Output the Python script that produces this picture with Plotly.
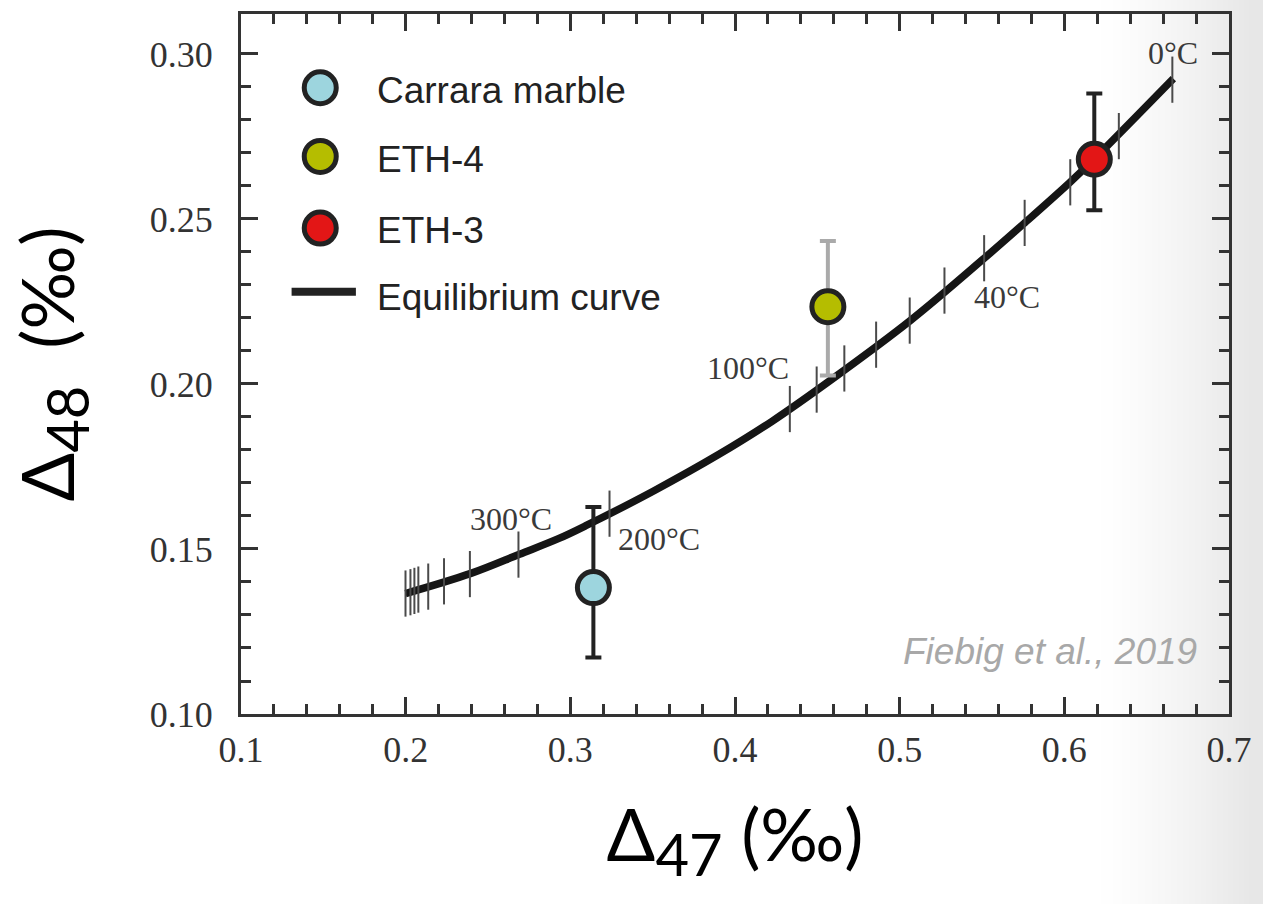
import plotly.graph_objects as go

# ---------------- data ----------------
curve_d47 = [0.1999, 0.2396, 0.2691, 0.2931, 0.3100, 0.3503, 0.3900, 0.4225,
             0.4604, 0.5067, 0.5507, 0.5759, 0.6030, 0.6168, 0.6662]
curve_d48 = [0.1365, 0.1426, 0.1484, 0.1532, 0.1572, 0.1675, 0.1786, 0.1887,
             0.2020, 0.2193, 0.2378, 0.2488, 0.2609, 0.2675, 0.2925]

tick_temps = [1000, 900, 800, 700, 600, 500, 400, 300, 200, 100,
              90, 80, 70, 60, 50, 40, 30, 20, 10, 0]
tick_d47 = [0.1999, 0.2029, 0.2053, 0.2077, 0.2137, 0.2233, 0.2390, 0.2685, 0.3238, 0.4333,
            0.4496, 0.4664, 0.4857, 0.5061, 0.5272, 0.5513, 0.5759, 0.6036, 0.6331, 0.6656]
tick_d48 = [0.1365, 0.1369, 0.1373, 0.1377, 0.1386, 0.1402, 0.1424, 0.1483, 0.1607, 0.1924,
            0.1983, 0.2047, 0.2119, 0.2192, 0.2283, 0.2381, 0.2488, 0.2611, 0.2751, 0.2922]

temp_labels = ["0°C", "40°C", "100°C", "200°C", "300°C"]
temp_label_d47 = [0.6662, 0.5651, 0.4078, 0.3536, 0.2640]
temp_label_d48 = [0.3004, 0.2265, 0.2048, 0.1529, 0.1590]

sample_names = ["Carrara marble", "ETH-4", "ETH-3"]
sample_colors = ["#9dd5de", "#b5bd00", "#e31616"]
sample_d47 = [0.3140, 0.4564, 0.6182]
sample_d48 = [0.1383, 0.2234, 0.2681]
err_plus = [0.0244, 0.0199, 0.0199]
err_minus = [0.0212, 0.0208, 0.0155]
err_colors = ["#222222", "#aaaaaa", "#222222"]

x_ticks = [0.1, 0.2, 0.3, 0.4, 0.5, 0.6, 0.7]
x_ticktext = ["0.1", "0.2", "0.3", "0.4", "0.5", "0.6", "0.7"]
y_ticks = [0.10, 0.15, 0.20, 0.25, 0.30]
y_ticktext = ["0.10", "0.15", "0.20", "0.25", "0.30"]
x_minor = [round(0.1 + 0.02 * i, 2) for i in range(31)]
y_minor = [round(0.10 + 0.01 * i, 2) for i in range(21)]

curve_name = "Equilibrium curve"
citation = "Fiebig et al., 2019"

# ---------------- style ----------------
AX = "#333333"
SERIF = "Liberation Serif"
SANS = "Liberation Sans"
TITLE_FONT = "Lato"
MARKER_SIZE = 32
MARKER_LINE = 5

fig = go.Figure()

fig.add_trace(go.Scatter(
    x=curve_d47, y=curve_d48, mode="lines", line=dict(color="#151515", width=7.5, shape="spline"),
    hoverinfo="skip", showlegend=False))

fig.add_trace(go.Scatter(
    x=tick_d47, y=tick_d48, mode="markers", text=[f"{t}°C" for t in tick_temps],
    marker=dict(symbol="line-ns", size=33, line=dict(color="#4a4a4a", width=2)),
    showlegend=False))

for i in range(len(sample_names)):
    fig.add_trace(go.Scatter(
        x=[sample_d47[i]], y=[sample_d48[i]], mode="markers", name=sample_names[i],
        marker=dict(size=MARKER_SIZE, color=sample_colors[i], line=dict(color="#222222", width=MARKER_LINE)),
        error_y=dict(type="data", symmetric=False, array=[err_plus[i]], arrayminus=[err_minus[i]],
                     color=err_colors[i], thickness=4, width=8),
        showlegend=False))

# temperature labels
for t, xx, yy in zip(temp_labels, temp_label_d47, temp_label_d48):
    fig.add_annotation(x=xx, y=yy, text=t, showarrow=False, xanchor="center", yanchor="middle",
                       font=dict(family=SERIF, size=32, color="#3a3a3a"))

# ---------------- custom legend (overlay axes in plot-fraction units) ----------------
leg_x = 0.0802
leg_rows = [0.8947, 0.7966, 0.6942]
leg_line_y = 0.6031
leg_text_x = 0.1354
for i in range(len(sample_names)):
    fig.add_trace(go.Scatter(
        x=[leg_x], y=[leg_rows[i]], xaxis="x2", yaxis="y2", mode="markers",
        marker=dict(size=MARKER_SIZE, color=sample_colors[i], line=dict(color="#222222", width=MARKER_LINE)),
        hoverinfo="skip", showlegend=False))
    fig.add_annotation(x=leg_text_x, y=leg_rows[i] - 0.004, xref="x2", yref="y2", text=sample_names[i],
                       showarrow=False, xanchor="left", yanchor="middle",
                       font=dict(family=SANS, size=37, color="#222222"))
fig.add_trace(go.Scatter(
    x=[0.0512, 0.1163], y=[leg_line_y, leg_line_y], xaxis="x2", yaxis="y2", mode="lines",
    line=dict(color="#222222", width=8), hoverinfo="skip", showlegend=False))
fig.add_annotation(x=leg_text_x, y=leg_line_y - 0.008, xref="x2", yref="y2", text=curve_name,
                   showarrow=False, xanchor="left", yanchor="middle",
                   font=dict(family=SANS, size=37, color="#222222"))

fig.add_annotation(x=0.9700, y=0.0896, xref="x2", yref="y2", text=f"<i>{citation}</i>",
                   showarrow=False, xanchor="right", yanchor="middle",
                   font=dict(family=SANS, size=37, color="#a8a8a8"))

# very faint slide-background shading toward the right edge (many tiny steps)
N_STEPS = 24
for k in range(N_STEPS):
    fig.add_shape(type="rect", xref="paper", yref="paper", layer="below",
                  x0=0.87 + 0.155 * (k / N_STEPS) ** 0.8, x1=1.2,
                  y0=-0.4, y1=1.1, line_width=0, fillcolor="rgba(0,0,0,0.0028)")

axis_common = dict(
    ticks="inside", ticklen=17, tickwidth=2.5, tickcolor=AX,
    showline=True, linewidth=3, linecolor=AX, mirror="ticks",
    showgrid=False, zeroline=False,
    tickfont=dict(family=SERIF, size=36, color="#333333"),
)

fig.update_layout(
    width=1263, height=904,
    margin=dict(l=241, r=25, t=11, b=190),
    paper_bgcolor="white", plot_bgcolor="rgba(0,0,0,0)",
    showlegend=False,
    xaxis=dict(range=[0.1, 0.7], tickmode="array", tickvals=x_ticks, ticktext=x_ticktext,
               minor=dict(tickmode="array", tickvals=x_minor, ticks="inside", ticklen=10,
                          tickwidth=2.5, tickcolor=AX, showgrid=False),
               ticklabelstandoff=2,
               title=dict(text="Δ<sub><span style='font-size:58px'>47</span></sub> (‰)",
                          font=dict(family=TITLE_FONT, size=72, color="#000000"), standoff=42),
               **axis_common),
    yaxis=dict(range=[0.10, 0.3121], tickmode="array", tickvals=y_ticks, ticktext=y_ticktext,
               minor=dict(tickmode="array", tickvals=y_minor, ticks="inside", ticklen=10,
                          tickwidth=2.5, tickcolor=AX, showgrid=False),
               ticklabelstandoff=18,
               title=dict(text="Δ<sub><span style='font-size:58px'>48</span></sub>  (‰)",
                          font=dict(family=TITLE_FONT, size=72, color="#000000"), standoff=52),
               **axis_common),
    xaxis2=dict(range=[0, 1], overlaying="x", visible=False, anchor="y2"),
    yaxis2=dict(range=[0, 1], overlaying="y", visible=False, anchor="x2"),
)

fig.write_html("out.html")
